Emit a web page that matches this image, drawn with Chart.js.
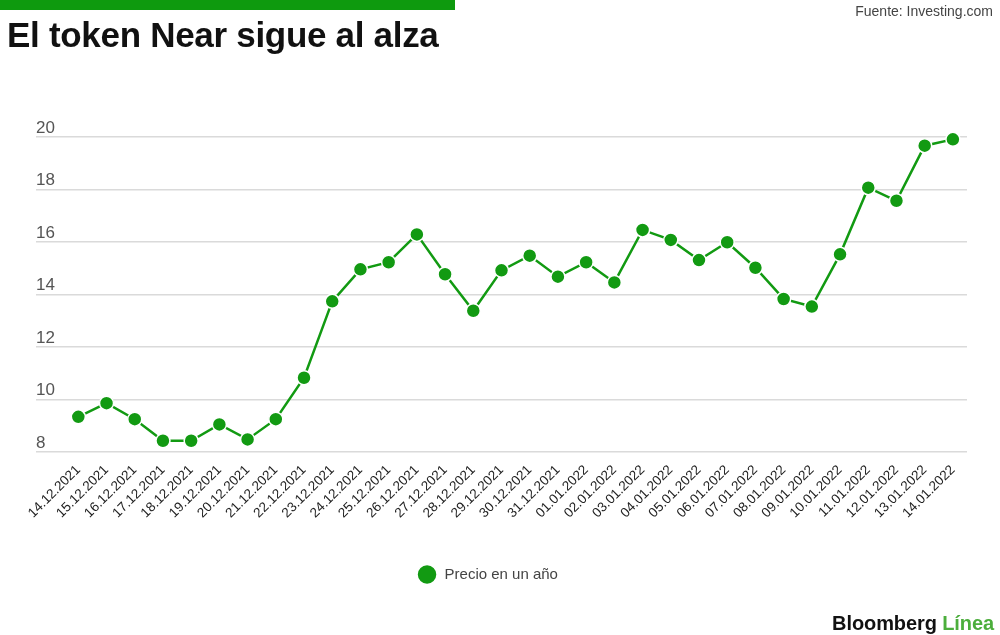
<!DOCTYPE html>
<html>
<head>
<meta charset="utf-8">
<script src="https://cdn.jsdelivr.net/npm/chart.js@4.4.1/dist/chart.umd.min.js"></script>
<style>
  body { margin: 0; background: #fff; font-family: 'Liberation Sans', Arial, sans-serif; }
  #wrap { position: relative; width: 1000px; height: 635px; overflow: hidden; }
  #chartBox { position: absolute; left: 0; top: 0; width: 1000px; height: 635px; }
  .bar { position: absolute; left: 0; top: 0; width: 455px; height: 10px; background: #0e9a0e; }
  .title { position: absolute; left: 7px; top: 17px; font-size: 35px; font-weight: bold; color: #111; line-height: 1; letter-spacing: -0.3px; }
  .source { position: absolute; right: 7px; top: 4px; font-size: 14px; color: #444; line-height: 1; }
  .logo { position: absolute; right: 6px; top: 613px; font-size: 20px; font-weight: bold; line-height: 1; letter-spacing: -0.1px; }
  .logo .b { color: #111; }
  .logo .l { color: #4cae3c; }
</style>
</head>
<body>
<div id="wrap">
  <div id="chartBox"><canvas id="lineChart"></canvas></div>
  <div class="bar"></div>
  <div class="title">El token Near sigue al alza</div>
  <div class="source">Fuente: Investing.com</div>
  <div class="logo"><span class="b">Bloomberg</span> <span class="l">Línea</span></div>
</div>
<script>
// Datos
const dates = ['14.12.2021', '15.12.2021', '16.12.2021', '17.12.2021', '18.12.2021', '19.12.2021',
    '20.12.2021', '21.12.2021', '22.12.2021', '23.12.2021', '24.12.2021', '25.12.2021', '26.12.2021',
    '27.12.2021', '28.12.2021', '29.12.2021', '30.12.2021', '31.12.2021', '01.01.2022', '02.01.2022',
    '03.01.2022', '04.01.2022', '05.01.2022', '06.01.2022', '07.01.2022', '08.01.2022', '09.01.2022',
    '10.01.2022', '11.01.2022', '12.01.2022', '13.01.2022', '14.01.2022'];
const prices = [9.34, 9.86, 9.25, 8.43, 8.43, 9.05, 8.48, 9.25, 10.83, 13.74, 14.96, 15.23, 16.29,
    14.77, 13.38, 14.92, 15.48, 14.68, 15.23, 14.46, 16.46, 16.08, 15.31, 15.99, 15.02, 13.83, 13.54,
    15.53, 18.07, 17.57, 19.67, 19.91];
const yTicks = [8, 10, 12, 14, 16, 18, 20];
const seriesLabel = 'Precio en un año';

const green = '#129a12';

const ctx = document.getElementById('lineChart').getContext('2d');
new Chart(ctx, {
    type: 'line',
    data: {
        datasets: [{
            label: seriesLabel,
            data: prices.map((v, i) => ({ x: i, y: v })),
            borderColor: green,
            borderWidth: 2.5,
            pointRadius: 7,
            pointBackgroundColor: green,
            pointBorderColor: '#fff',
            pointBorderWidth: 1.5,
            tension: 0,
            clip: false
        }]
    },
    options: {
        responsive: true,
        maintainAspectRatio: false,
        animation: false,
        layout: { padding: { top: 137, left: 8, right: 33, bottom: 43 } },
        scales: {
            x: {
                type: 'linear',
                min: -1.5,
                max: dates.length - 0.5,
                afterBuildTicks: (axis) => { axis.ticks = dates.map((d, i) => ({ value: i })); },
                afterFit: (axis) => { axis.height = 105; },
                grid: { display: false },
                border: { display: false },
                ticks: {
                    autoSkip: false,
                    minRotation: 45,
                    maxRotation: 45,
                    padding: 2,
                    color: '#222',
                    font: { family: 'Liberation Sans', size: 13.5 },
                    callback: (v) => dates[v] ?? ''
                }
            },
            y: {
                min: yTicks[0],
                max: yTicks[yTicks.length - 1],
                afterBuildTicks: (axis) => { axis.ticks = yTicks.map(v => ({ value: v })); },
                afterFit: (axis) => { axis.width = 28; },
                grid: { color: '#dadada', lineWidth: 1.5, drawTicks: false },
                border: { display: false },
                ticks: {
                    mirror: true,
                    padding: 0,
                    labelOffset: -9,
                    color: '#555',
                    font: { family: 'Liberation Sans', size: 17 }
                }
            }
        },
        plugins: {
            tooltip: { enabled: false },
            legend: {
                position: 'bottom',
                labels: {
                    usePointStyle: true,
                    pointStyle: 'circle',
                    boxHeight: 14,
                    pointStyleWidth: 20,
                    padding: 10,
                    color: '#444',
                    font: { family: 'Liberation Sans', size: 15 }
                }
            }
        }
    }
});
</script>
</body>
</html>
